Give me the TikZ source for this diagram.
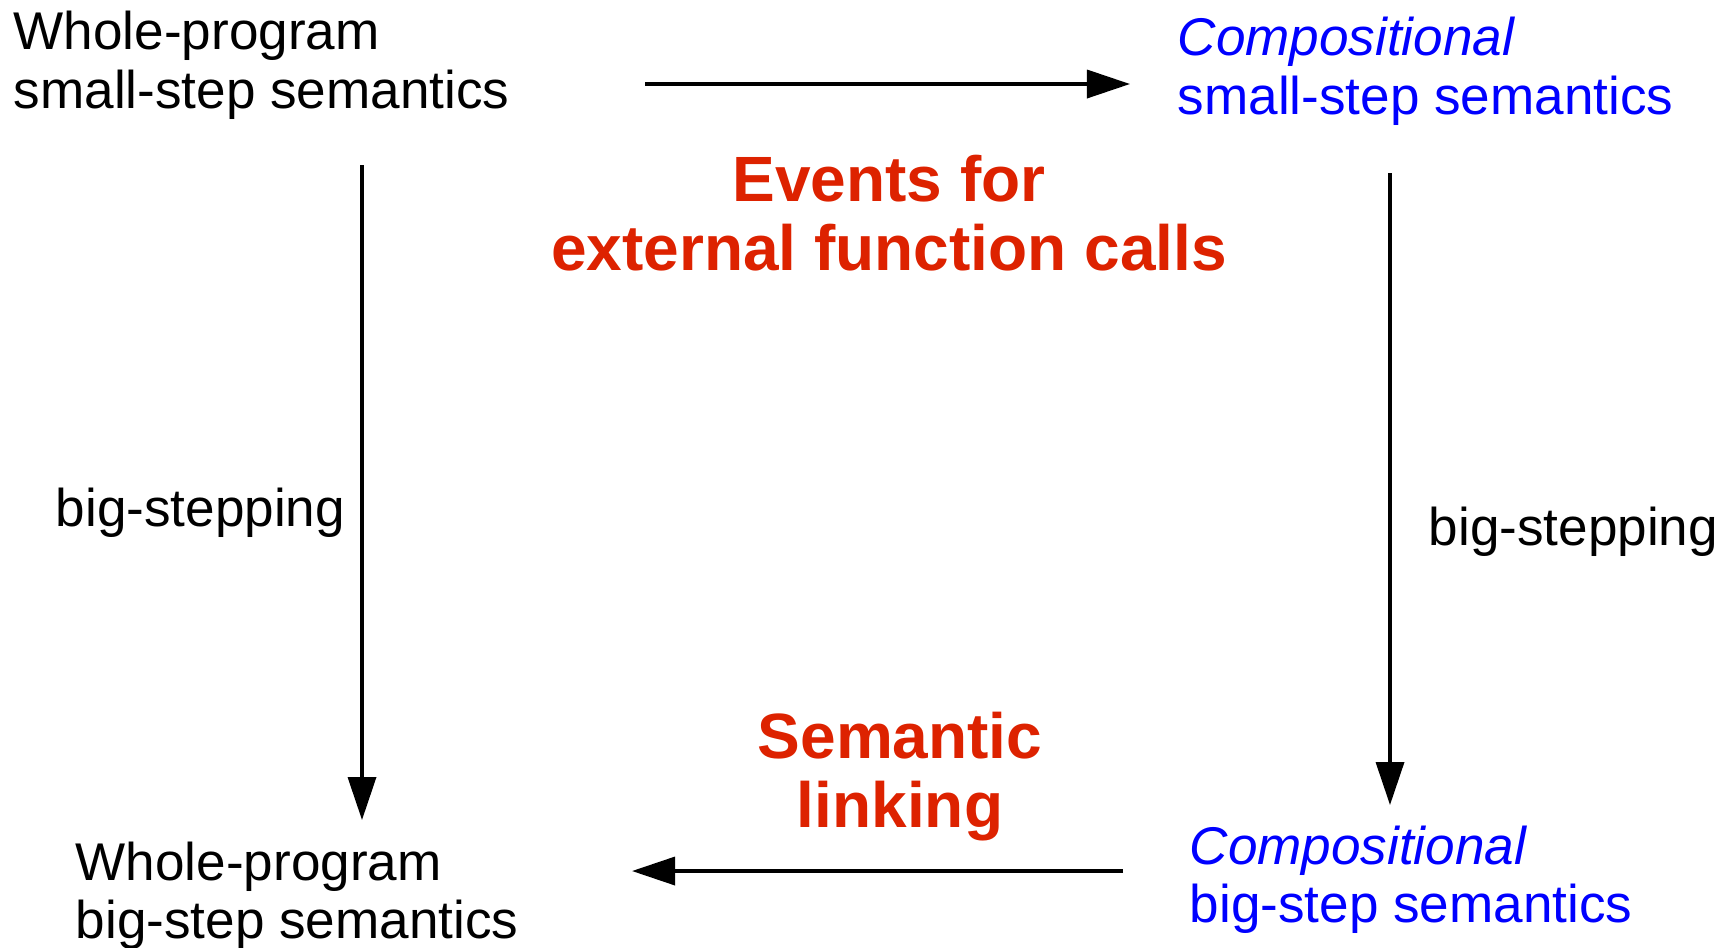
\documentclass[tikz,border=0pt]{standalone}
\usepackage{fontspec}
\setmainfont{Liberation Sans}
\usetikzlibrary{arrows.meta}

\definecolor{cblue}{RGB}{0,0,255}
\definecolor{cred}{RGB}{221,34,0}
\tikzset{semfig/.style={x=0.01cm,y=-0.01cm}}
\tikzset{semtxt/.style={inner sep=0,anchor=base west,align=left,font=\fontsize{15.1}{16.5}\selectfont},
         comptxt/.style={semtxt,cblue},
         linktxt/.style={inner sep=0,anchor=base,align=center,cred,font=\fontsize{18.2}{19.6}\selectfont\bfseries},
         semarrow/.style={-{Triangle[length=0.43cm,width=0.28cm]},line width=1pt}}

\begin{document}
\begin{tikzpicture}[semfig]
    \useasboundingbox (0,0) rectangle (1725,947);
    % the four semantics (placed at the baseline of their last line)
    \node[semtxt]  (wss) at (13,108)   {Whole-program\\small-step semantics};
    \node[comptxt] (css) at (1177,114) {\textit{Compositional}\\small-step semantics};
    \node[semtxt]  (wbs) at (75,938)   {Whole-program\\big-step semantics};
    \node[comptxt] (cbs) at (1189,922) {\textit{Compositional}\\big-step semantics};
    % arrow ends
    \coordinate (wss-r) at (645,84);   \coordinate (css-l) at (1130,84);
    \coordinate (wss-b) at (362,165);  \coordinate (wbs-t) at (362,820);
    \coordinate (css-b) at (1390,173); \coordinate (cbs-t) at (1390,805);
    \coordinate (cbs-l) at (1123,871); \coordinate (wbs-r) at (632,871);
    \draw[semarrow] (wss-r) -- (css-l);
    \draw[semarrow] (wss-b) -- (wbs-t);
    \draw[semarrow] (css-b) -- (cbs-t);
    \draw[semarrow] (cbs-l) -- (wbs-r);
    \node[semtxt] (bsl) at (55,526)   {big-stepping};
    \node[semtxt] (bsr) at (1428,545) {big-stepping};
    \node[linktxt] (events) at (889,270) {Events for\\external function calls};
    \node[linktxt] (linking) at (900,827) {Semantic\\linking};
\end{tikzpicture}
\end{document}
